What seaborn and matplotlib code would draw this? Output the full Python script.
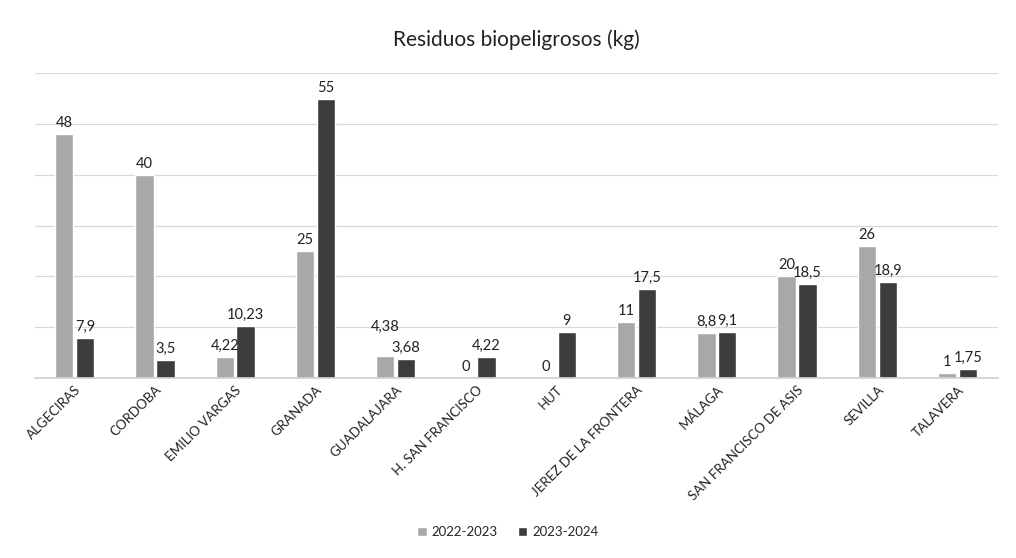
import matplotlib
matplotlib.use("Agg")
import matplotlib.pyplot as plt
import pandas as pd
import seaborn as sns

centros = [
    "ALGECIRAS", "CORDOBA", "EMILIO VARGAS", "GRANADA", "GUADALAJARA",
    "H. SAN FRANCISCO", "HUT", "JEREZ DE LA FRONTERA", "MÁLAGA",
    "SAN FRANCISCO DE ASIS", "SEVILLA", "TALAVERA",
]
periodos = ["2022-2023", "2023-2024"]
kg_2022_2023 = [48, 40, 4.22, 25, 4.38, 0, 0, 11, 8.8, 20, 26, 1]
kg_2023_2024 = [7.9, 3.5, 10.23, 55, 3.68, 4.22, 9, 17.5, 9.1, 18.5, 18.9, 1.75]

df = pd.DataFrame({
    "centro": centros * 2,
    "periodo": [periodos[0]] * len(centros) + [periodos[1]] * len(centros),
    "kg": kg_2022_2023 + kg_2023_2024,
})

sns.set_theme(style="white")
plt.rcParams["font.family"] = ["Lato", "DejaVu Sans"]

fig = plt.figure(figsize=(10.16, 5.58), dpi=100)
ax = fig.add_axes([0.034, 0.3226, 0.948, 0.546])

colores = {"2022-2023": "#a8a8a8", "2023-2024": "#3c3c3c"}
sns.barplot(data=df, x="centro", y="kg", hue="periodo", palette=colores,
            width=0.52, gap=0.12, ax=ax, legend=True)

ax.set_ylim(0, 60)
ax.set_yticks(range(0, 61, 10))
ax.set_yticklabels([])
ax.tick_params(axis="y", length=0)
ax.grid(True, axis="y", color="#d9d9d9", linewidth=0.9)
ax.set_axisbelow(True)
for s in ["top", "right", "left"]:
    ax.spines[s].set_visible(False)
ax.spines["bottom"].set_color("#d0d0d0")

ax.set_xlabel("")
ax.set_ylabel("")
ax.tick_params(axis="x", length=0, pad=4)
for lab in ax.get_xticklabels():
    lab.set_rotation(45)
    lab.set_ha("right")
    lab.set_rotation_mode("anchor")
    lab.set_fontsize(9.5)
    lab.set_color("#222222")

for i, cont in enumerate(ax.containers):
    etiquetas = [f"{b.get_height():g}".replace(".", ",") for b in cont]
    anns = ax.bar_label(cont, labels=etiquetas, padding=3, fontsize=10.5,
                        color="#222222")
    # 4,38 sits higher than 3,68 so the two don't collide
    if i == 0:
        anns[centros.index("GUADALAJARA")].xyann = (0, 16)

ax.set_title("Residuos biopeligrosos (kg)", fontsize=15, color="#222222", pad=20)

handles, labels = ax.get_legend_handles_labels()
ax.legend_.remove()
fig.legend(handles, labels, loc="lower center", bbox_to_anchor=(0.5, 0.015),
           ncol=2, frameon=False, fontsize=9.5, handlelength=0.7,
           handleheight=0.7, columnspacing=1.5, handletextpad=0.4)

fig.savefig("out.png", dpi=100)
